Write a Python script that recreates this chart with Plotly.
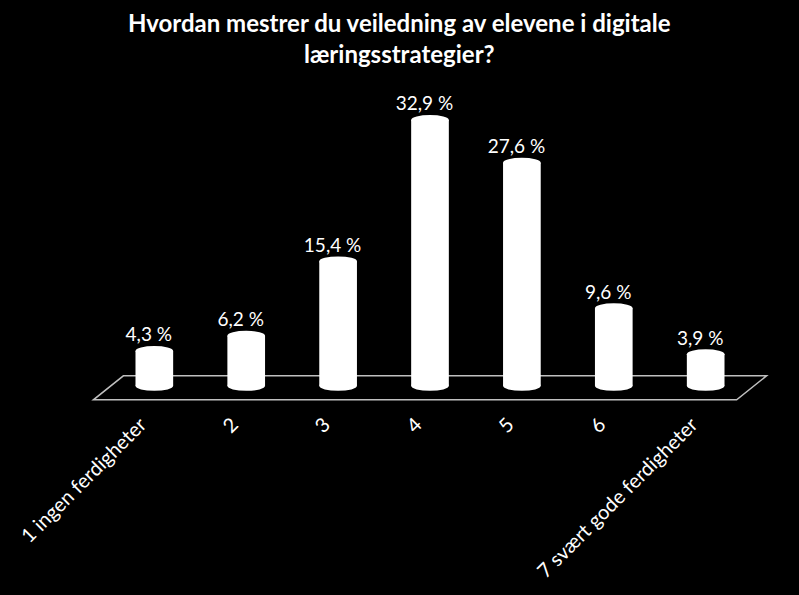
import plotly.graph_objects as go

categories = ["1 ingen ferdigheter", "2", "3", "4", "5", "6", "7 svært gode ferdigheter"]
values = [4.3, 6.2, 15.4, 32.9, 27.6, 9.6, 3.9]
labels = ["4,3 %", "6,2 %", "15,4 %", "32,9 %", "27,6 %", "9,6 %", "3,9 %"]
title_text = "Hvordan mestrer du veiledning av elevene i digitale<br>læringsstrategier?"

FONT = "Lato"
BAR_W = 0.41
ELL = 0.62  # half height of cylinder ellipse in y units
PAD = 0.2   # extra x range so the floor is not clipped
W, H = 799, 595
ML, MR = 90, 29

idx = list(range(len(categories)))

fig = go.Figure()
fig.add_trace(go.Bar(
    x=idx, y=values, width=BAR_W,
    marker=dict(color="white", line=dict(width=0)),
    hoverinfo="skip",
))
fig.add_trace(go.Scatter(
    x=[i - 0.06 for i in idx], y=[v + ELL for v in values], mode="text", text=labels,
    textposition="top center", cliponaxis=False,
    textfont=dict(family=FONT, size=19, color="white"),
    hoverinfo="skip",
))

shapes = []
# floor parallelogram
xl, xr = -0.5, len(categories) - 0.5
dx = 0.163
yb, yf = 1.24, -1.73
shapes.append(dict(
    type="path", xref="x", yref="y", layer="below",
    path=f"M {xl-dx},{yf} L {xr-dx},{yf} L {xr+dx},{yb} L {xl+dx},{yb} Z",
    line=dict(color="#bfbfbf", width=1.5), fillcolor="rgba(0,0,0,0)",
))
for i, v in zip(idx, values):
    for yc in (0, v):
        shapes.append(dict(
            type="circle", xref="x", yref="y", layer="above",
            x0=i - BAR_W / 2, x1=i + BAR_W / 2, y0=yc - ELL, y1=yc + ELL,
            fillcolor="white", line=dict(width=0),
        ))

title_x = (W / 2 - ML) / (W - ML - MR)

fig.update_layout(
    width=W, height=H,
    paper_bgcolor="black", plot_bgcolor="black",
    margin=dict(l=ML, r=MR, t=103, b=193),
    showlegend=False,
    shapes=shapes,
    annotations=[dict(
        text=title_text, xref="paper", yref="paper", x=title_x, y=1,
        xanchor="center", yanchor="bottom", yshift=33, showarrow=False,
        font=dict(family=FONT, size=24, color="white", weight="bold"),
    )],
    xaxis=dict(
        range=[-0.5 - PAD, len(categories) - 0.5 + PAD], tickmode="array",
        tickvals=[i - 0.15 for i in idx], ticktext=categories, tickangle=-45,
        showgrid=False, zeroline=False, showline=False, ticks="",
        tickfont=dict(family=FONT, size=20, color="white"),
        ticklabelstandoff=6,
    ),
    yaxis=dict(range=[-2, 35], visible=False),
)

fig.write_html("out.html", config={"displayModeBar": False},
               post_script="document.body.style.margin='0';document.body.style.overflow='hidden';")
